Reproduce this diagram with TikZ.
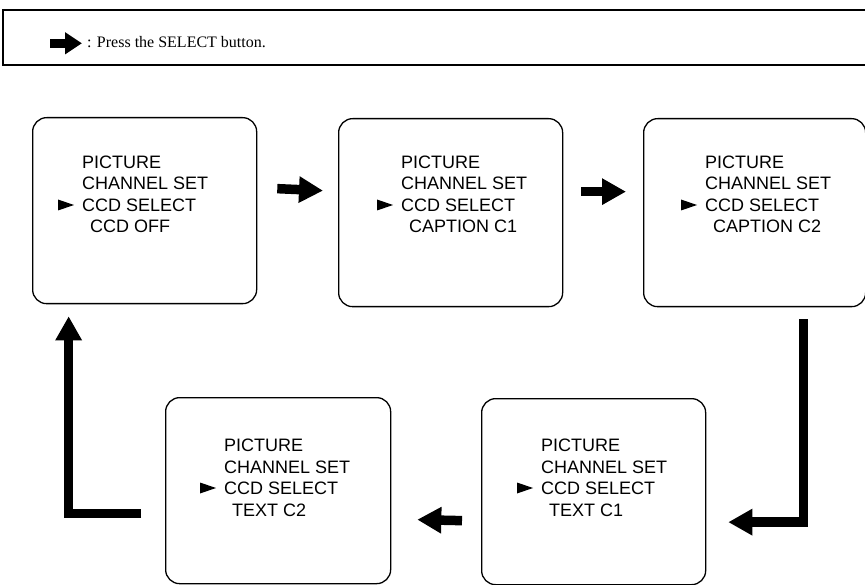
\documentclass[tikz,border=0pt]{standalone}
\usepackage{fontspec}
\setmainfont{Liberation Serif}
\newfontfamily\menufont{Liberation Sans}
\usetikzlibrary{calc,arrows.meta}
\newcommand\selmark[1]{\fill ($(#1.base west)+(-24,-12)$) -- ($(#1.base west)+(-24,-1)$) -- ($(#1.base west)+(-8,-6.5)$) -- cycle;}
\begin{document}
\begin{tikzpicture}[x=1pt,y=-1pt,
  screen/.style={draw, line width=1.3pt, rounded corners=14pt, inner sep=0pt, anchor=north west},
  menu/.style={font=\menufont\fontsize{18}{21}\selectfont, inner sep=0pt, anchor=base west},
  blockarrow/.style={line width=9.5pt, -{Triangle[width=25pt,length=24pt]}, line join=miter}]
\clip (0,0) rectangle (865,585);
\fill[white] (0,0) rectangle (865,585);

% legend
\node[draw, line width=1.6pt, inner sep=0pt, anchor=north west, minimum width=880pt, minimum height=55pt] (leg) at (2,9) {};
\draw[line width=9pt, -{Triangle[width=21pt,length=17pt]}] ($(leg.west)+(48,6)$) coordinate (la) -- ($(leg.west)+(80,6)$) coordinate (lb);
\node[font=\fontsize{16}{19}\selectfont, inner sep=0pt, anchor=base west] (legtext) at ($(leg.west)+(85,10.5)$) {: Press the SELECT button.};

% screens
\node[screen, minimum width=224pt, minimum height=186pt] (b1) at (32,117) {};
\node[screen, minimum width=224pt, minimum height=188pt] (b2) at (338,118) {};
\node[screen, minimum width=222pt, minimum height=188pt] (b3) at (643,118) {};
\node[screen, minimum width=225pt, minimum height=186pt] (b4) at (165,397) {};
\node[screen, minimum width=224pt, minimum height=186pt] (b5) at (481,398) {};

% menu texts
\node[menu] (t1a) at (82,168.5) {PICTURE};
\node[menu] (t1b) at (82,190) {CHANNEL SET};
\node[menu] (t1c) at (82,211.5) {CCD SELECT};
\node[menu] (t1d) at (90,233) {CCD OFF};
\selmark{t1c}

\node[menu] (t2a) at (401,168.5) {PICTURE};
\node[menu] (t2b) at (401,190) {CHANNEL SET};
\node[menu] (t2c) at (401,211.5) {CCD SELECT};
\node[menu] (t2d) at (409,233) {CAPTION C1};
\selmark{t2c}

\node[menu] (t3a) at (705,168.5) {PICTURE};
\node[menu] (t3b) at (705,190) {CHANNEL SET};
\node[menu] (t3c) at (705,211.5) {CCD SELECT};
\node[menu] (t3d) at (713,233) {CAPTION C2};
\selmark{t3c}

\node[menu] (t4a) at (224,451.5) {PICTURE};
\node[menu] (t4b) at (224,473) {CHANNEL SET};
\node[menu] (t4c) at (224,494.5) {CCD SELECT};
\node[menu] (t4d) at (232,516) {TEXT C2};
\selmark{t4c}

\node[menu] (t5a) at (541,451.5) {PICTURE};
\node[menu] (t5b) at (541,473) {CHANNEL SET};
\node[menu] (t5c) at (541,494.5) {CCD SELECT};
\node[menu] (t5d) at (549,516) {TEXT C1};
\selmark{t5c}

% connectors
\draw[blockarrow] ($(b1.east)+(20,-22)$) -- ($(b2.west)+(-15,-22)$);
\draw[blockarrow] ($(b2.east)+(18,-21)$) -- ($(b3.west)+(-17,-21)$);
\draw[blockarrow] ($(b3.south)+(49,12)$) |- ($(b5.east)+(22,30.5)$);
\draw[blockarrow] ($(b5.west)+(-19,29)$) -- ($(b4.east)+(26,29)$);
\draw[blockarrow] ($(b4.west)+(-24,23)$) -| ($(b1.south)+(-76,12)$);
\end{tikzpicture}
\end{document}
